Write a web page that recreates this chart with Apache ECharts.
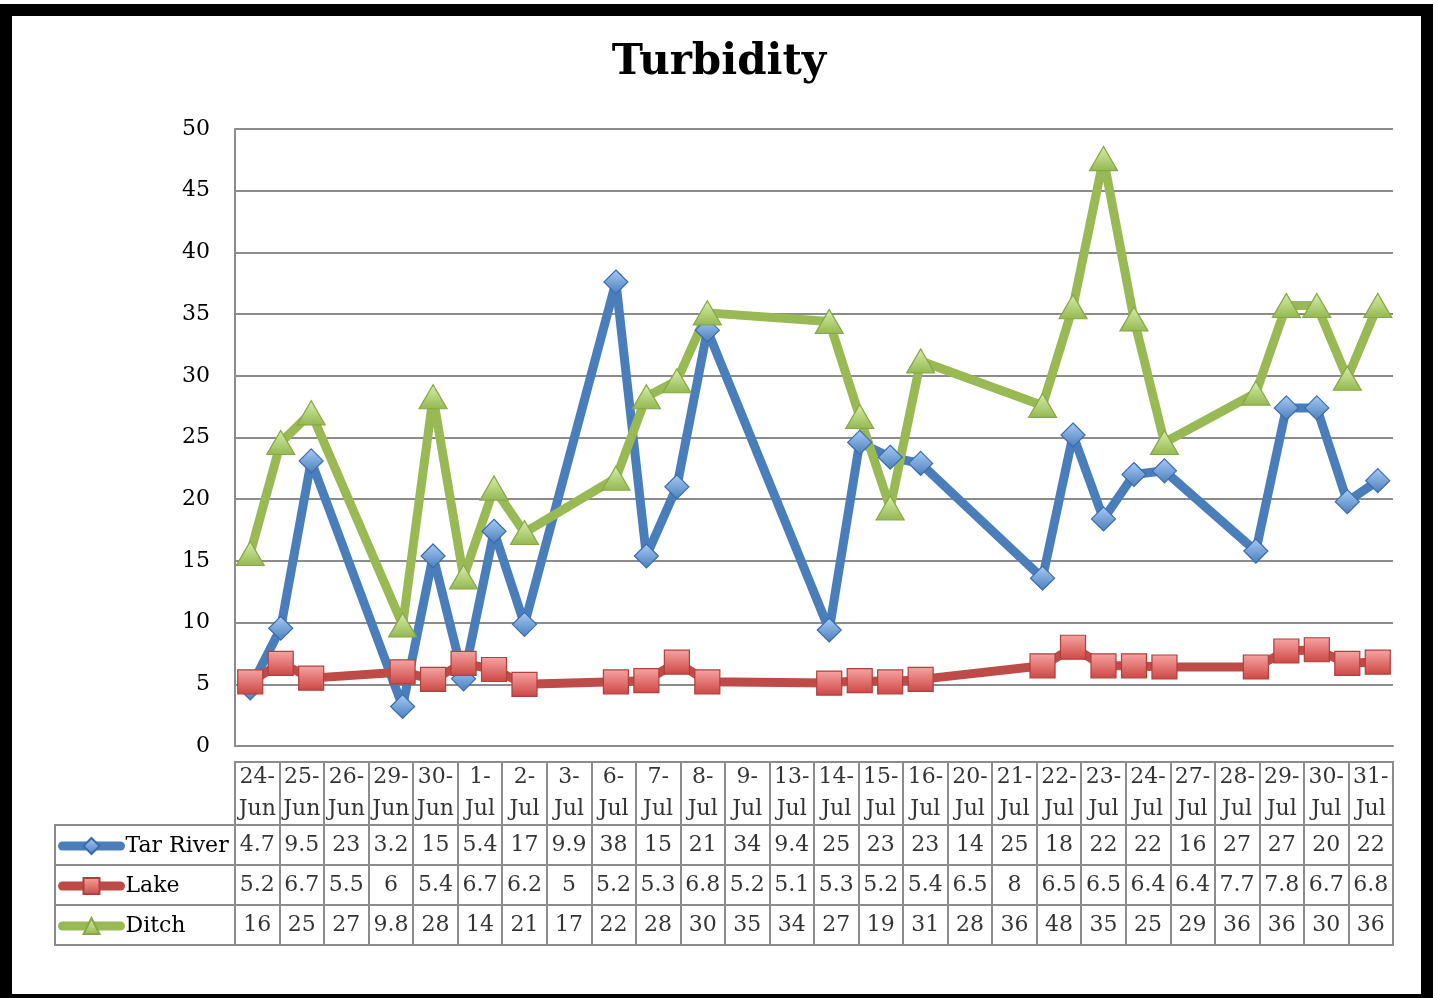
<!DOCTYPE html>
<html>
<head>
<meta charset="utf-8">
<title>Turbidity</title>
<script src="https://cdn.jsdelivr.net/npm/echarts@6/dist/echarts.min.js"></script>
<style>
  html, body { margin: 0; padding: 0; background: #fff; }
  #chart { width: 1438px; height: 998px; }
</style>
</head>
<body>
<div id="chart"></div>
<script>
// sampling dates (x axis is a real date axis, the table below is one column per date)
const dates = ['24-Jun', '25-Jun', '26-Jun', '29-Jun', '30-Jun', '1-Jul', '2-Jul', '3-Jul',
  '6-Jul', '7-Jul', '8-Jul', '9-Jul', '13-Jul', '14-Jul', '15-Jul', '16-Jul', '20-Jul',
  '21-Jul', '22-Jul', '23-Jul', '24-Jul', '27-Jul', '28-Jul', '29-Jul', '30-Jul', '31-Jul'];

const tarRiver = [4.7, 9.54, 23.1, 3.2, 15.4, 5.44, 17.4, 9.86, 37.6, 15.4, 21.0, 33.7, 9.4,
  24.6, 23.4, 22.9, 13.6, 25.2, 18.4, 22.0, 22.3, 15.8, 27.4, 27.4, 19.8, 21.5];
const lake = [5.2, 6.7, 5.5, 6.0, 5.4, 6.7, 6.2, 5.0, 5.2, 5.3, 6.8, 5.2, 5.1, 5.3, 5.2, 5.4,
  6.5, 8.0, 6.5, 6.5, 6.4, 6.4, 7.7, 7.8, 6.7, 6.8];
const ditch = [15.6, 24.6, 27.0, 9.8, 28.3, 13.7, 20.9, 17.3, 21.7, 28.3, 29.6, 35.1, 34.4,
  26.7, 19.3, 31.2, 27.6, 35.6, 47.6, 34.6, 24.6, 28.6, 35.7, 35.7, 29.8, 35.7];

const yTicks = { min: 0, max: 50, interval: 5 };

const FONT = 'DejaVu Serif';
const GRID_LINE = '#8c8c8c';
const MONTH = { Jun: 5, Jul: 6 };
const DAY = 86400000;

const toTime = (s) => {
  const [d, m] = s.split('-');
  return Date.UTC(2015, MONTH[m], +d);
};
// excel's data table shows two significant digits in these narrow columns
const fmt = (v) => (v >= 9.95 ? String(Math.round(v)) : String(Math.round(v * 10) / 10));

const grad = (top, bottom) => ({
  type: 'linear', x: 0, y: 0, x2: 0, y2: 1,
  colorStops: [{ offset: 0, color: top }, { offset: 1, color: bottom }],
});

const seriesDefs = [
  { name: 'Tar River', values: tarRiver, symbol: 'diamond', size: [24, 24],
    line: '#4a7ebb', fill: grad('#a8cbf6', '#4a7ebb'), border: '#3a6cad' },
  { name: 'Lake', values: lake, symbol: 'rect', size: [25, 24],
    line: '#be4b48', fill: grad('#f7a5a3', '#cc4643'), border: '#b0403d' },
  { name: 'Ditch', values: ditch, symbol: 'triangle', size: [28, 24],
    line: '#98b954', fill: grad('#d8eeaa', '#93b850'), border: '#86a848' },
];
const names = seriesDefs.map((s) => s.name);

const lineSeries = seriesDefs.map((s) => ({
  name: s.name,
  type: 'line',
  xAxisIndex: 0,
  yAxisIndex: 0,
  data: s.values.map((v, i) => [toTime(dates[i]), v]),
  symbol: s.symbol,
  symbolSize: s.size,
  showAllSymbol: true,
  lineStyle: { color: s.line, width: 9, join: 'round', cap: 'round' },
  itemStyle: { color: s.fill, borderColor: s.border, borderWidth: 1.2 },
  emphasis: { disabled: true },
}));

const cells = [];
seriesDefs.forEach((s) => s.values.forEach((v, i) => cells.push([dates[i], s.name, v])));

const cellLabel = { show: true, position: 'inside', color: '#000', fontFamily: FONT, fontSize: 22 };

const hiddenCat = (gridIndex, data, extra) => Object.assign({
  gridIndex, type: 'category', data,
  axisLine: { show: false }, axisTick: { show: false }, axisLabel: { show: false },
  splitLine: { show: false },
}, extra || {});
const tableSplit = { show: true, interval: 0, lineStyle: { color: GRID_LINE, width: 2 } };

const chart = echarts.init(document.getElementById('chart'));
chart.setOption({
  animation: false,
  backgroundColor: '#fff',
  title: {
    text: 'Turbidity',
    left: 'center',
    top: 37,
    textStyle: { fontFamily: FONT, fontWeight: 'bold', fontSize: 42, color: '#000' },
  },
  legend: {
    data: names,
    orient: 'vertical',
    left: 58,
    top: 835,
    padding: 0,
    itemWidth: 58,
    itemHeight: 20,
    itemGap: 18,
    selectedMode: false,
    lineStyle: { width: 9, cap: 'round' },
    textStyle: { fontFamily: FONT, fontSize: 22, color: '#000' },
  },
  grid: [
    { left: 235, top: 129, width: 1158, height: 617, outerBoundsMode: 'none' },
    { left: 235, top: 762, width: 1158, height: 63, outerBoundsMode: 'none',
      show: true, borderColor: GRID_LINE, borderWidth: 2 },
    { left: 235, top: 825, width: 1158, height: 120, outerBoundsMode: 'none',
      show: true, borderColor: GRID_LINE, borderWidth: 2 },
    { left: 55, top: 825, width: 180, height: 120, outerBoundsMode: 'none',
      show: true, borderColor: GRID_LINE, borderWidth: 2 },
  ],
  xAxis: [
    {
      gridIndex: 0,
      type: 'time',
      min: toTime(dates[0]) - DAY / 2,
      max: toTime(dates[dates.length - 1]) + DAY / 2,
      axisLine: { show: true, lineStyle: { color: GRID_LINE, width: 2 } },
      axisTick: { show: false },
      axisLabel: { show: false },
      splitLine: { show: false },
    },
    hiddenCat(1, dates, { boundaryGap: true, splitLine: tableSplit, axisTick: { show: false, interval: 0 } }),
    hiddenCat(2, dates, { boundaryGap: true, splitLine: tableSplit, axisTick: { show: false, interval: 0 } }),
    hiddenCat(3, ['name']),
  ],
  yAxis: [
    {
      gridIndex: 0,
      type: 'value',
      min: yTicks.min,
      max: yTicks.max,
      interval: yTicks.interval,
      axisLine: { show: true, lineStyle: { color: GRID_LINE, width: 2 } },
      axisTick: { show: false },
      axisLabel: { color: '#000', fontFamily: FONT, fontSize: 22, margin: 25 },
      splitLine: { show: true, lineStyle: { color: GRID_LINE, width: 2 } },
    },
    hiddenCat(1, ['date']),
    hiddenCat(2, names, { inverse: true, splitLine: tableSplit }),
    hiddenCat(3, names, { inverse: true, splitLine: tableSplit }),
  ],
  series: lineSeries.concat([
    {
      type: 'scatter',
      xAxisIndex: 1,
      yAxisIndex: 1,
      silent: true,
      symbolSize: 1,
      itemStyle: { color: 'rgba(0,0,0,0)' },
      data: dates.map((d) => [d, 'date']),
      label: Object.assign({}, cellLabel, {
        lineHeight: 32,
        formatter: (p) => p.value[0].replace('-', '-\n'),
      }),
    },
    {
      type: 'scatter',
      xAxisIndex: 2,
      yAxisIndex: 2,
      silent: true,
      symbolSize: 1,
      itemStyle: { color: 'rgba(0,0,0,0)' },
      data: cells,
      label: Object.assign({}, cellLabel, { formatter: (p) => fmt(p.value[2]) }),
    },
  ]),
  graphic: [
    {
      type: 'rect',
      silent: true,
      z: 100,
      shape: { x: 6, y: 10, width: 1421, height: 990 },
      style: { fill: null, stroke: '#000', lineWidth: 12 },
    },
  ],
});
</script>
</body>
</html>
